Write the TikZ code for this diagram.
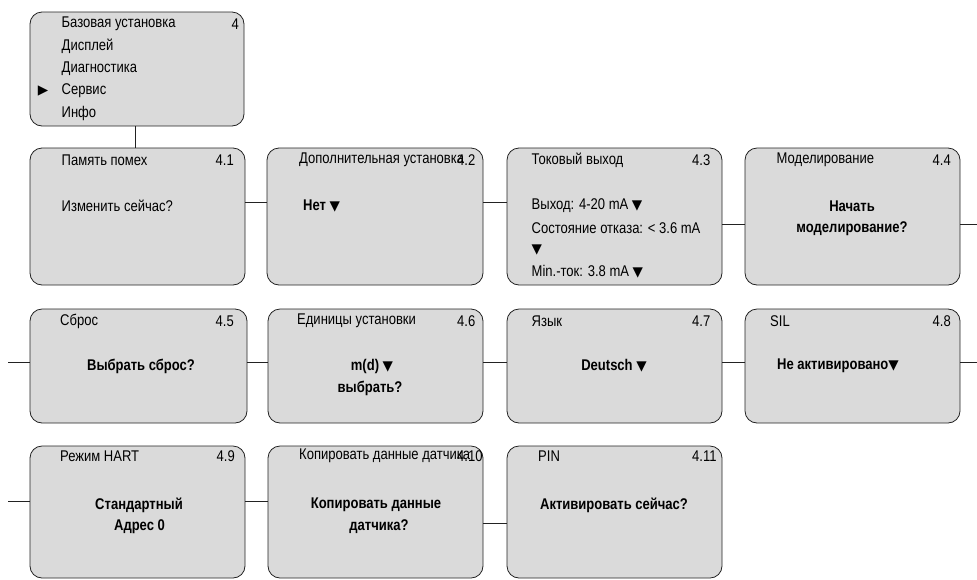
\documentclass[tikz,border=0pt]{standalone}
\usepackage{fontspec}
\setmainfont[FakeStretch=0.84]{Liberation Sans}
\newfontfamily\symf{DejaVu Sans}
\definecolor{boxfill}{HTML}{DADADA}
\definecolor{edge}{HTML}{222222}
\newcommand{\dn}{{\symf\fontsize{13.5}{15}\selectfont ▼}}
\newcommand{\rt}{{\symf\fontsize{13.5}{15}\selectfont ▶}}
\tikzset{
  menubox/.style={draw=edge, fill=boxfill, line width=0.8pt, rounded corners=12pt, outer sep=0pt, inner sep=0pt, anchor=north west},
  txt/.style={inner sep=0pt, anchor=west, font=\fontsize{15.5}{18}\selectfont},
  btxt/.style={inner sep=0pt, anchor=center, font=\fontsize{15.5}{18}\selectfont\bfseries},
  link/.style={draw=edge, line width=0.9pt}
}
\begin{document}
\begin{tikzpicture}[x=1pt,y=-1pt]
\useasboundingbox (0,0) rectangle (977,579);
% boxes
\node[menubox, minimum width=214pt, minimum height=114pt] (b4) at (30,12) {};
\node[menubox, minimum width=215pt, minimum height=137pt] (b41) at (30,148) {};
\node[menubox, minimum width=216pt, minimum height=137pt] (b42) at (267,148) {};
\node[menubox, minimum width=215pt, minimum height=137pt] (b43) at (507,148) {};
\node[menubox, minimum width=215pt, minimum height=137pt] (b44) at (745,148) {};
\node[menubox, minimum width=217pt, minimum height=114pt] (b45) at (30,309) {};
\node[menubox, minimum width=215pt, minimum height=114pt] (b46) at (268,309) {};
\node[menubox, minimum width=215pt, minimum height=114pt] (b47) at (507,309) {};
\node[menubox, minimum width=215pt, minimum height=114pt] (b48) at (745,309) {};
\node[menubox, minimum width=215pt, minimum height=132pt] (b49) at (30,446) {};
\node[menubox, minimum width=215pt, minimum height=132pt] (b410) at (268,446) {};
\node[menubox, minimum width=215pt, minimum height=132pt] (b411) at (507,446) {};
% top box texts
\node[txt] (t0a) at (61.5,24) {Базовая установка};
\node[txt] (t0n) at (231.5,24) {4};
\node[txt] (t0b) at (61.5,46) {Дисплей};
\node[txt] (t0c) at (61.5,68.5) {Диагностика};
\node[txt] (t0d) at (61.5,90.5) {Сервис};
\node[txt] (t0e) at (61.5,113) {Инфо};
\node[inner sep=0pt] (t0arr) at (43,90.5) {\rt};
% row 1
\node[txt] (h41) at (61.5,160) {Память помех};
\node[txt] (n41) at (215.5,160) {4.1};
\node[txt] (c41) at (61.5,206) {Изменить сейчас?};
\node[txt] (h42) at (299,160) {Дополнительная установка};
\node[txt] (n42) at (457,160) {4.2};
\node[txt, font=\fontsize{15.5}{18}\selectfont\bfseries] (c42) at (303,206) {Нет \dn};
\node[txt] (h43) at (531.5,160) {Токовый выход};
\node[txt] (n43) at (692,160) {4.3};
\node[txt] (c43a) at (531.5,206) {Выход: 4-20 mA \dn};
\node[txt] (c43b) at (531.5,228) {Состояние отказа: < 3.6 mA};
\node[txt] (c43c) at (531.5,249.5) {\dn};
\node[txt] (c43d) at (531.5,272) {Min.-ток: 3.8 mA \dn};
\node[txt] (h44) at (776.5,160) {Моделирование};
\node[txt] (n44) at (932.5,160) {4.4};
\node[btxt] (c44a) at (852,206) {Начать};
\node[btxt] (c44b) at (852,229) {моделирование?};
% row 2
\node[txt] (h45) at (60,321) {Сброс};
\node[txt] (n45) at (215.5,321) {4.5};
\node[btxt] (c45) at (141,366) {Выбрать сброс?};
\node[txt] (h46) at (297,321) {Единицы установки};
\node[txt] (n46) at (457,321) {4.6};
\node[btxt] (c46a) at (372,366) {m(d) \dn};
\node[btxt] (c46b) at (370,388) {выбрать?};
\node[txt] (h47) at (531.5,321) {Язык};
\node[txt] (n47) at (692,321) {4.7};
\node[btxt] (c47) at (614,366) {Deutsch \dn};
\node[txt] (h48) at (770,321) {SIL};
\node[txt] (n48) at (932.5,321) {4.8};
\node[btxt] (c48) at (838,366) {Не активировано\dn};
% row 3
\node[txt] (h49) at (60,456) {Режим HART};
\node[txt] (n49) at (216.5,456) {4.9};
\node[btxt] (c49a) at (139,505) {Стандартный};
\node[btxt] (c49b) at (139.5,527) {Адрес 0};
\node[txt] (h410) at (299,456) {Копировать данные датчика};
\node[txt] (n410) at (457,456) {4.10};
\node[btxt] (c410a) at (376,505) {Копировать данные};
\node[btxt] (c410b) at (379,527) {датчика?};
\node[txt] (h411) at (538,456) {PIN};
\node[txt] (n411) at (692,456) {4.11};
\node[btxt] (c411) at (614,505) {Активировать сейчас?};
% connector levels and free ends
\coordinate (ya) at (0,202);
\coordinate (yb) at (0,224);
\coordinate (yc) at (0,362);
\coordinate (yd) at (0,501);
\coordinate (ye) at (0,523);
\coordinate (e1) at (977,224);
\coordinate (s2) at (8,362);
\coordinate (e2) at (977,362);
\coordinate (s3) at (8,501);
% connectors
\draw[link] (b4.south -| 135,0) -- (b41.north -| 135,0);
\draw[link] (b41.east |- ya) -- (b42.west |- ya);
\draw[link] (b42.east |- ya) -- (b43.west |- ya);
\draw[link] (b43.east |- yb) -- (b44.west |- yb);
\draw[link] (b44.east |- yb) -- (e1);
\draw[link] (s2) -- (b45.west |- yc);
\draw[link] (b45.east |- yc) -- (b46.west |- yc);
\draw[link] (b46.east |- yc) -- (b47.west |- yc);
\draw[link] (b47.east |- yc) -- (b48.west |- yc);
\draw[link] (b48.east |- yc) -- (e2);
\draw[link] (s3) -- (b49.west |- yd);
\draw[link] (b49.east |- yd) -- (b410.west |- yd);
\draw[link] (b410.east |- ye) -- (b411.west |- ye);
\end{tikzpicture}
\end{document}
